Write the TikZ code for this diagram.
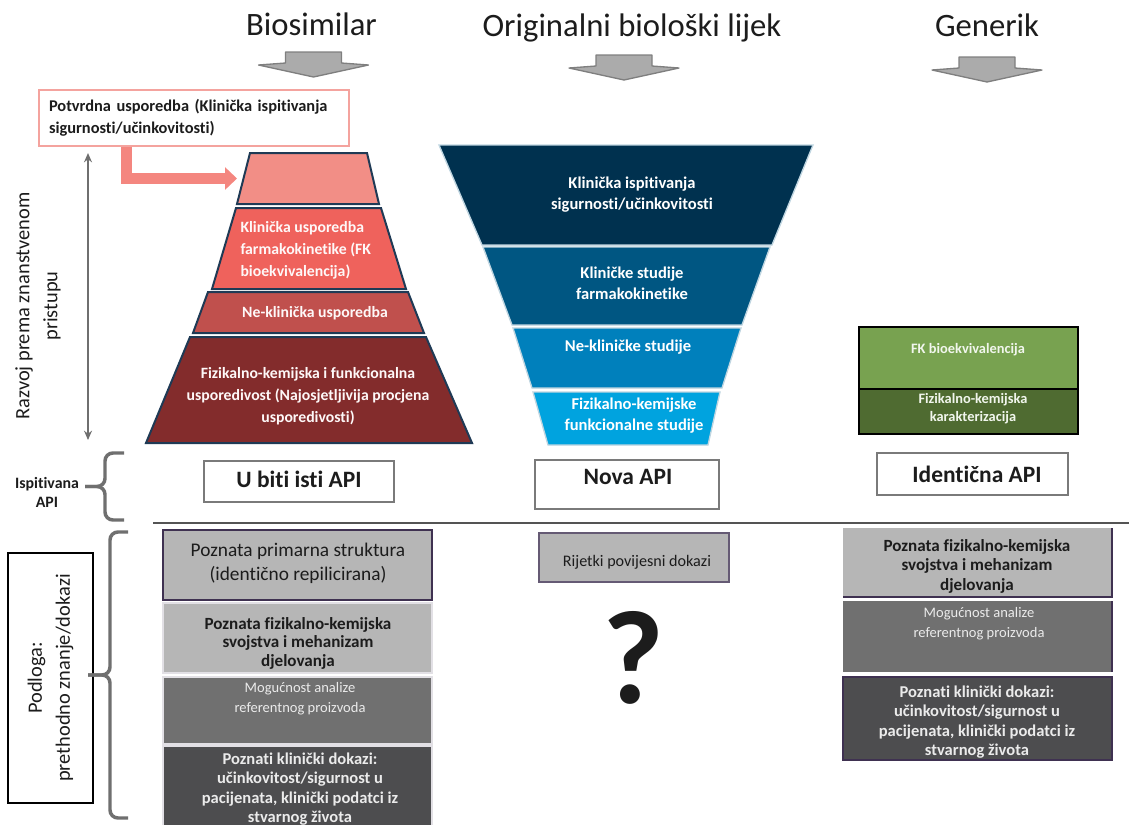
\documentclass[tikz,border=0pt]{standalone}
\usepackage{fontspec}
\setmainfont{Carlito}[Ligatures={NoCommon,NoContextual}]
\usetikzlibrary{arrows.meta}

\definecolor{tekst}{HTML}{1C1C1C}
\definecolor{naslovsiva}{HTML}{ABABAB}
\definecolor{naslovrub}{HTML}{7F7F7F}
\definecolor{rozaokvir}{HTML}{F4A39E}
\definecolor{rozastr}{HTML}{F4867F}
\definecolor{pir1}{HTML}{F28E86}
\definecolor{pir2}{HTML}{EF625C}
\definecolor{pir3}{HTML}{C0504D}
\definecolor{pir4}{HTML}{832C2C}
\definecolor{pirrub}{HTML}{1F3A55}
\definecolor{lij1}{HTML}{00314F}
\definecolor{lij2}{HTML}{005682}
\definecolor{lij3}{HTML}{0080BC}
\definecolor{lij4}{HTML}{00A3DF}
\definecolor{zel1}{HTML}{78A250}
\definecolor{zel2}{HTML}{4F6B31}
\definecolor{siva1}{HTML}{B6B6B6}
\definecolor{siva2}{HTML}{707070}
\definecolor{siva3}{HTML}{4D4D4F}
\definecolor{ljub}{HTML}{3F3151}
\definecolor{apirub}{HTML}{7A7A7A}
\definecolor{vitsiva}{HTML}{6F6F6F}

\tikzset{every picture/.style={line width=0.75pt}}
\tikzset{
  naslov/.style={anchor=base,inner sep=0pt,text=tekst,font=\fontsize{24.5}{29}\selectfont},
  sivastrelica/.style={fill=naslovsiva,draw=naslovrub,line width=1pt,line join=round},
  potvrdaokvir/.style={draw=rozaokvir,fill=white,line width=1.1pt,minimum width=232.5pt,minimum height=42pt,
    text width=217.5pt,inner xsep=7.5pt,align=left,text=tekst,font=\bfseries\fontsize{12.3}{16.5}\selectfont},
  rozastrelica/.style={draw=rozastr,line width=8.25pt,line join=miter,-{Triangle[length=9pt,width=16.5pt]}},
  dvostruka/.style={draw=vitsiva,line width=1.5pt,{Stealth[length=7pt,width=6pt]}-{Stealth[length=7pt,width=6pt]}},
  okrenuto/.style={rotate=90,align=center,inner sep=0pt,text=tekst,font=\fontsize{15.3}{21}\selectfont},
  piramida/.style={draw=pirrub,line width=1.5pt,line join=miter},
  lijevak/.style={draw=white!75!lij2,line width=1pt},
  piramidatekst/.style={text=white!94!pir1,align=center,inner sep=0pt,font=\bfseries\fontsize{11.8}{16.5}\selectfont},
  lijevaktekst/.style={text=white,align=center,inner sep=0pt,font=\bfseries\fontsize{12.4}{15.75}\selectfont},
  zelenitekst/.style={text=white!90!zel1,align=center,inner sep=0pt,font=\bfseries\fontsize{10.8}{13.5}\selectfont},
  apiokvir/.style={draw=apirub,fill=white,line width=1.5pt},
  apitekst/.style={text=tekst,inner sep=0pt,font=\bfseries\fontsize{17.6}{20}\selectfont},
  malitekst/.style={text=tekst,align=center,inner sep=0pt,font=\bfseries\fontsize{11.9}{14.25}\selectfont},
  vitica/.style={draw=vitsiva,line width=2.6pt,rounded corners=6pt},
  podlogaokvir/.style={draw=black,fill=white,line width=0.9pt,rotate=90,minimum width=187.5pt,minimum height=63.75pt,
    align=center,text=tekst,font=\fontsize{15.3}{21}\selectfont},
  crta/.style={draw=black!67,line width=1.5pt},
  sivitekst/.style={text=tekst,align=center,inner sep=0pt},
  bijelitekst/.style={text=white!92!black,align=center,inner sep=0pt},
}

\begin{document}
\begin{tikzpicture}[x=0.75pt,y=-0.75pt]
\useasboundingbox (0,0) rectangle (1129,825);

% naslovi stupaca
\node[naslov] (biosimilar) at (311.5,35) {Biosimilar};
\node[naslov] (original) at (632,36) {Originalni biološki lijek};
\node[naslov] (generik) at (987,36) {Generik};
\foreach \sx/\sy in {313.5/52,624/55,987/57}
  \draw[sivastrelica] (\sx-28,\sy) -- ++(56,0) -- ++(0,11) -- ++(27,2) -- (\sx,\sy+25) -- (\sx-55,\sy+13) -- ++(27,-2) -- cycle;

% lijevi opis i strelica
\node[okrenuto] (razvoj) at (38,306) {Razvoj prema znanstvenom\\pristupu};
\coordinate (razvojgore) at (88,153);
\coordinate (razvojdolje) at (88,440);
\draw[dvostruka] (razvojgore) -- (razvojdolje);

% biosimilar - piramida
\node[potvrdaokvir] (potvrda) at (194,118) {Potvrdna usporedba (Klinička ispitivanja\\sigurnosti/učinkovitosti)};
\coordinate (pirvrh) at (237,178.5);
\draw[rozastrelica] ([xshift=66.4pt]potvrda.south west) |- (pirvrh);
\draw[piramida,fill=pir1] (250,153) -- (367,153) -- (379,204) -- (237,204) -- cycle;
\draw[piramida,fill=pir2] (236,208) -- (381,208) -- (406,289) -- (212,289) -- cycle;
\draw[piramida,fill=pir3] (208,292) -- (408,292) -- (424,333) -- (193,333) -- cycle;
\draw[piramida,fill=pir4] (190,337) -- (426,337) -- (472,443) -- (146,443) -- cycle;
\node[piramidatekst,anchor=west,align=left] (fkusporedba) at (240,250) {Klinička usporedba\\farmakokinetike (FK\\bioekvivalencija)};
\node[piramidatekst] (neklinicka) at (315,313) {Ne-klinička usporedba};
\node[piramidatekst] (fizkemusp) at (308,396) {Fizikalno-kemijska i funkcionalna\\usporedivost (Najosjetljivija procjena\\usporedivosti)};

% original - lijevak
\draw[lijevak,fill=lij1] (439,145) -- (813,145) -- (772,245) -- (482,245) -- cycle;
\draw[lijevak,fill=lij2] (483,247) -- (770,247) -- (742,325) -- (512,325) -- cycle;
\draw[lijevak,fill=lij3] (513,328) -- (741,328) -- (722,388) -- (532,388) -- cycle;
\draw[lijevak,fill=lij4] (533,392) -- (720,392) -- (708,445) -- (548,445) -- cycle;
\node[lijevaktekst] (klinisp) at (632,195) {Klinička ispitivanja\\sigurnosti/učinkovitosti};
\node[lijevaktekst] (klinstud) at (632,283) {Kliničke studije\\farmakokinetike};
\node[lijevaktekst] (neklinstud) at (628,347) {Ne-kliničke studije};
\node[lijevaktekst] (fizkemstud) at (634,416) {Fizikalno-kemijske\\funkcionalne studije};

% generik
\draw[draw=black,line width=1pt,fill=zel1] (859,327) rectangle (1078,389);
\draw[draw=black,line width=1pt,fill=zel2] (859,389) rectangle (1078,434);
\node[zelenitekst] (fkbio) at (968,350) {FK bioekvivalencija};
\node[zelenitekst] (fizkar) at (973,409) {Fizikalno-kemijska\\karakterizacija};

% API okviri
\draw[apiokvir] (204,461) rectangle (394,502);
\node[apitekst] (istiapi) at (299,479) {U biti isti API};
\draw[apiokvir] (535,460) rectangle (719,509);
\node[apitekst] (novaapi) at (628,477) {Nova API};
\draw[apiokvir] (877,453) rectangle (1068,495);
\node[apitekst] (identapi) at (977,474) {Identična API};

\node[malitekst] (ispitivana) at (47,492) {Ispitivana\\API};
\draw[vitica] (124,453) -- (105,453) -- (105,486.5) -- (85,486.5);
\draw[vitica] (124,520) -- (105,520) -- (105,486.5) -- (85,486.5);

\draw[crta] (153,523) -- (1129,523);

% podloga
\node[podlogaokvir] (podloga) at (50.5,678) {Podloga:\\prethodno znanje/dokazi};
\draw[vitica] (128,532) -- (110,532) -- (110,675) -- (88,675);
\draw[vitica] (128,818) -- (110,818) -- (110,675) -- (88,675);

% biosimilar - dokazi
\draw[fill=siva1,draw=ljub,line width=1.2pt] (163,530) rectangle (432,600);
\draw[fill=siva1,draw=white!85!ljub,line width=1pt] (163,603) rectangle (432,673);
\draw[fill=siva2,draw=white!85!ljub,line width=1pt] (163,677) rectangle (432,744);
\draw[fill=siva3,draw=white!85!ljub,line width=1pt] (163,746) rectangle (432,830);
\node[sivitekst,font=\fontsize{14.5}{18}\selectfont] (primarna) at (298,563) {Poznata primarna struktura\\(identično repilicirana)};
\node[sivitekst,font=\bfseries\fontsize{12.8}{13.9}\selectfont] (svojstvab) at (298,643) {Poznata fizikalno-kemijska\\svojstva i mehanizam\\djelovanja};
\node[bijelitekst,font=\fontsize{10.9}{15}\selectfont] (analizab) at (300,699) {Mogućnost analize\\referentnog proizvoda};
\node[bijelitekst,font=\bfseries\fontsize{12.4}{14.6}\selectfont] (klinikab) at (300,789) {Poznati klinički dokazi:\\učinkovitost/sigurnost u\\pacijenata, klinički podatci iz\\stvarnog života};

% original - dokazi
\draw[fill=siva1,draw=ljub!80!white,line width=1.5pt] (539,533) rectangle (729,582);
\node[sivitekst,font=\fontsize{12.1}{14}\selectfont] (rijetki) at (637,562) {Rijetki povijesni dokazi};
\node[text=tekst,inner sep=0pt,font=\bfseries\fontsize{100}{110}\selectfont] (upitnik) at (633,658) {?};

% generik - dokazi
\draw[fill=siva1,draw=none] (843,528) rectangle (1112,597);
\draw[fill=siva2,draw=none] (843,601) rectangle (1112,672);
\draw[draw=ljub,line width=1.2pt] (1112,528) -- (1112,597) -- (843,597);
\draw[draw=ljub,line width=1.2pt] (1112,601) -- (1112,672);
\draw[fill=siva3,draw=ljub,line width=1.2pt] (843,677) rectangle (1112,760);
\node[sivitekst,font=\bfseries\fontsize{12.8}{14.6}\selectfont] (svojstvag) at (977,566) {Poznata fizikalno-kemijska\\svojstva i mehanizam\\djelovanja};
\node[bijelitekst,font=\fontsize{10.9}{15}\selectfont] (analizag) at (979,624) {Mogućnost analize\\referentnog proizvoda};
\node[bijelitekst,font=\bfseries\fontsize{12.4}{14.6}\selectfont] (klinikag) at (977,722) {Poznati klinički dokazi:\\učinkovitost/sigurnost u\\pacijenata, klinički podatci iz\\stvarnog života};
\end{tikzpicture}
\end{document}
